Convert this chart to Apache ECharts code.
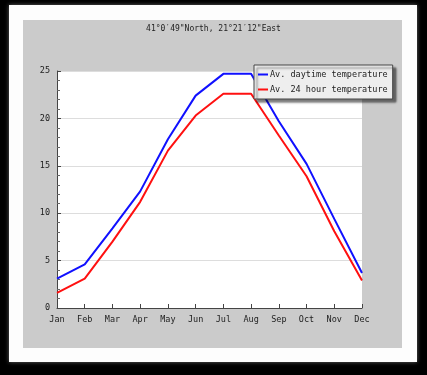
<!DOCTYPE html>
<html><head><meta charset="utf-8">
<script src="https://cdn.jsdelivr.net/npm/echarts@6/dist/echarts.min.js"></script>
<style>html,body{margin:0;padding:0;background:#000;}#c{width:427px;height:375px;}</style>
</head><body><div id="c"></div>
<script>
const months = ['Jan','Feb','Mar','Apr','May','Jun','Jul','Aug','Sep','Oct','Nov','Dec'];
const daytime = [3.1, 4.6, 8.4, 12.3, 17.8, 22.4, 24.7, 24.7, 19.7, 15.2, 9.4, 3.7];
const hour24 = [1.6, 3.1, 7.0, 11.2, 16.6, 20.3, 22.6, 22.6, 18.2, 13.9, 8.1, 2.9];
const yTicks = [0, 5, 10, 15, 20, 25];
const titleText = '41°0′49"North, 21°21′12"East';
const seriesNames = ['Av. daytime temperature', 'Av. 24 hour temperature'];

const chart = echarts.init(document.getElementById('c'), null, {renderer: 'canvas'});
const font = 'DejaVu Sans Mono';
chart.setOption({
  backgroundColor: '#000',
  animation: false,
  graphic: [
    {type: 'rect', shape: {x: 9, y: 5, width: 408, height: 357}, style: {fill: '#fdfdfd', shadowBlur: 4, shadowColor: 'rgba(255,255,255,0.4)'}, z: -10},
    {type: 'rect', shape: {x: 23, y: 20, width: 379, height: 328}, style: {fill: '#cbcbcb'}, z: -9},
    {type: 'rect', shape: {x: 57, y: 71, width: 305, height: 237}, style: {fill: '#ffffff'}, z: -8}
  ],
  title: {
    text: titleText, left: 'center', top: 20,
    textStyle: {fontFamily: font, fontSize: 8, fontWeight: 'normal', color: '#222'}
  },
  legend: {
    data: seriesNames, orient: 'vertical', left: 254, top: 65,
    backgroundColor: '#eeeeee', borderColor: '#444', borderWidth: 1,
    shadowColor: 'rgba(0,0,0,0.5)', shadowOffsetX: 3, shadowOffsetY: 3, shadowBlur: 2,
    padding: [5, 5, 5, 4], itemGap: 6, itemWidth: 10, itemHeight: 2,
    icon: 'rect',
    textStyle: {fontFamily: font, fontSize: 8.5, color: '#222', padding: [0, 0, 0, -3]}
  },
  grid: {left: 57, top: 71, right: 65, bottom: 67, containLabel: false},
  xAxis: {
    type: 'category', data: months, boundaryGap: false,
    axisLine: {lineStyle: {color: '#444', width: 1}},
    axisTick: {inside: true, length: 4, lineStyle: {color: '#444'}},
    axisLabel: {fontFamily: font, fontSize: 8.5, color: '#222', margin: 7}
  },
  yAxis: {
    type: 'value', min: 0, max: 25, interval: 5,
    axisLine: {show: true, lineStyle: {color: '#444', width: 1}},
    axisTick: {show: true, inside: true, length: 4, lineStyle: {color: '#444'}},
    minorTick: {show: true, splitNumber: 5, length: 3, lineStyle: {color: '#666'}},
    splitLine: {show: true, lineStyle: {color: '#dddddd', width: 1}},
    axisLabel: {fontFamily: font, fontSize: 8.5, color: '#222', margin: 7,
      formatter: v => yTicks.includes(v) ? String(v) : ''}
  },
  series: [
    {name: seriesNames[0], type: 'line', data: daytime, symbol: 'none', color: '#1010ff',
     lineStyle: {width: 2, color: '#1010ff'}, z: 3},
    {name: seriesNames[1], type: 'line', data: hour24, symbol: 'none', color: '#ff1010',
     lineStyle: {width: 2, color: '#ff1010'}, z: 2}
  ]
});
</script></body></html>
